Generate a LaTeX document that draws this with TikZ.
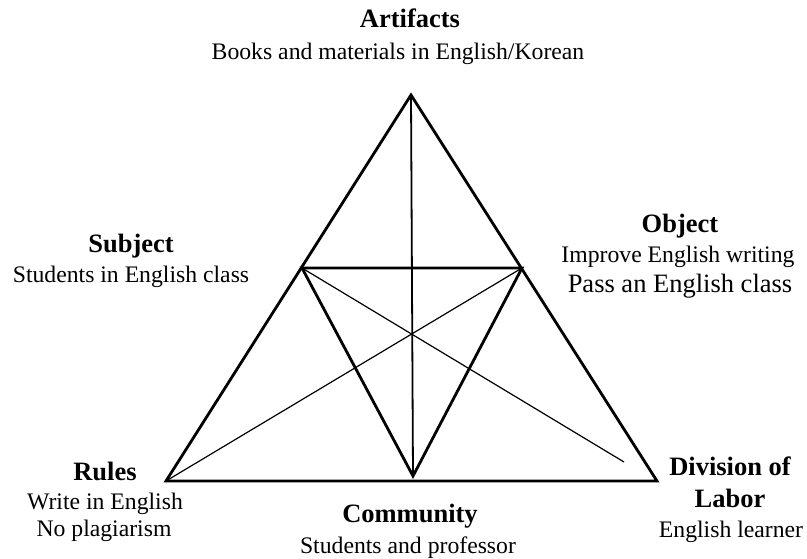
\documentclass[tikz,border=0pt]{standalone}
\usepackage{fontspec}
\setmainfont{Liberation Serif}
\begin{document}
\begin{tikzpicture}[x=1pt,y=-1pt,
  heading/.style={font=\fontsize{26.5}{30}\selectfont\bfseries, anchor=base, inner sep=0pt},
  caption/.style={font=\fontsize{23.7}{27}\selectfont, anchor=base, inner sep=0pt},
  bigcaption/.style={font=\fontsize{26.5}{30}\selectfont, anchor=base, inner sep=0pt},
  frame/.style={line width=2.8pt, line join=miter},
  spoke/.style={line width=1.8pt},
  diag/.style={line width=1.2pt}]
\useasboundingbox (0,0) rectangle (807,559);

% vertices of the outer and inner triangles
\coordinate (A) at (411,95);
\coordinate (L) at (166,481);
\coordinate (R) at (657,481);
\coordinate (P) at (302,268);
\coordinate (Q) at (522,268);
\coordinate (V) at (413,476);
\coordinate (E) at (624,462);

% triangles and connecting lines
\draw[frame] (A) -- (L) -- (R) -- cycle;
\draw[frame] (P) -- (Q) -- (V) -- cycle;
\draw[spoke] (A) -- (V);
\draw[diag] (Q) -- (L);
\draw[diag] (P) -- (E);

% labels
\node[heading] (artT) at (410,28) {Artifacts};
\node[caption] (artD) at (398,60) {Books and materials in English/Korean};

\node[heading] (subT) at (131,253) {Subject};
\node[caption] (subD) at (131,283) {Students in English class};

\node[heading] (objT) at (680,233) {Object};
\node[caption] (objD1) at (678,262) {Improve English writing};
\node[bigcaption] (objD2) at (680,292) {Pass an English class};

\node[heading] (rulT) at (105,480) {Rules};
\node[caption] (rulD1) at (105,509) {Write in English};
\node[caption] (rulD2) at (104,536) {No plagiarism};

\node[heading] (comT) at (410,522) {Community};
\node[caption] (comD) at (408,553) {Students and professor};

\node[heading] (divT1) at (730,475) {Division of};
\node[heading] (divT2) at (730,507) {Labor};
\node[caption] (divD) at (731,537) {English learner};
\end{tikzpicture}
\end{document}
